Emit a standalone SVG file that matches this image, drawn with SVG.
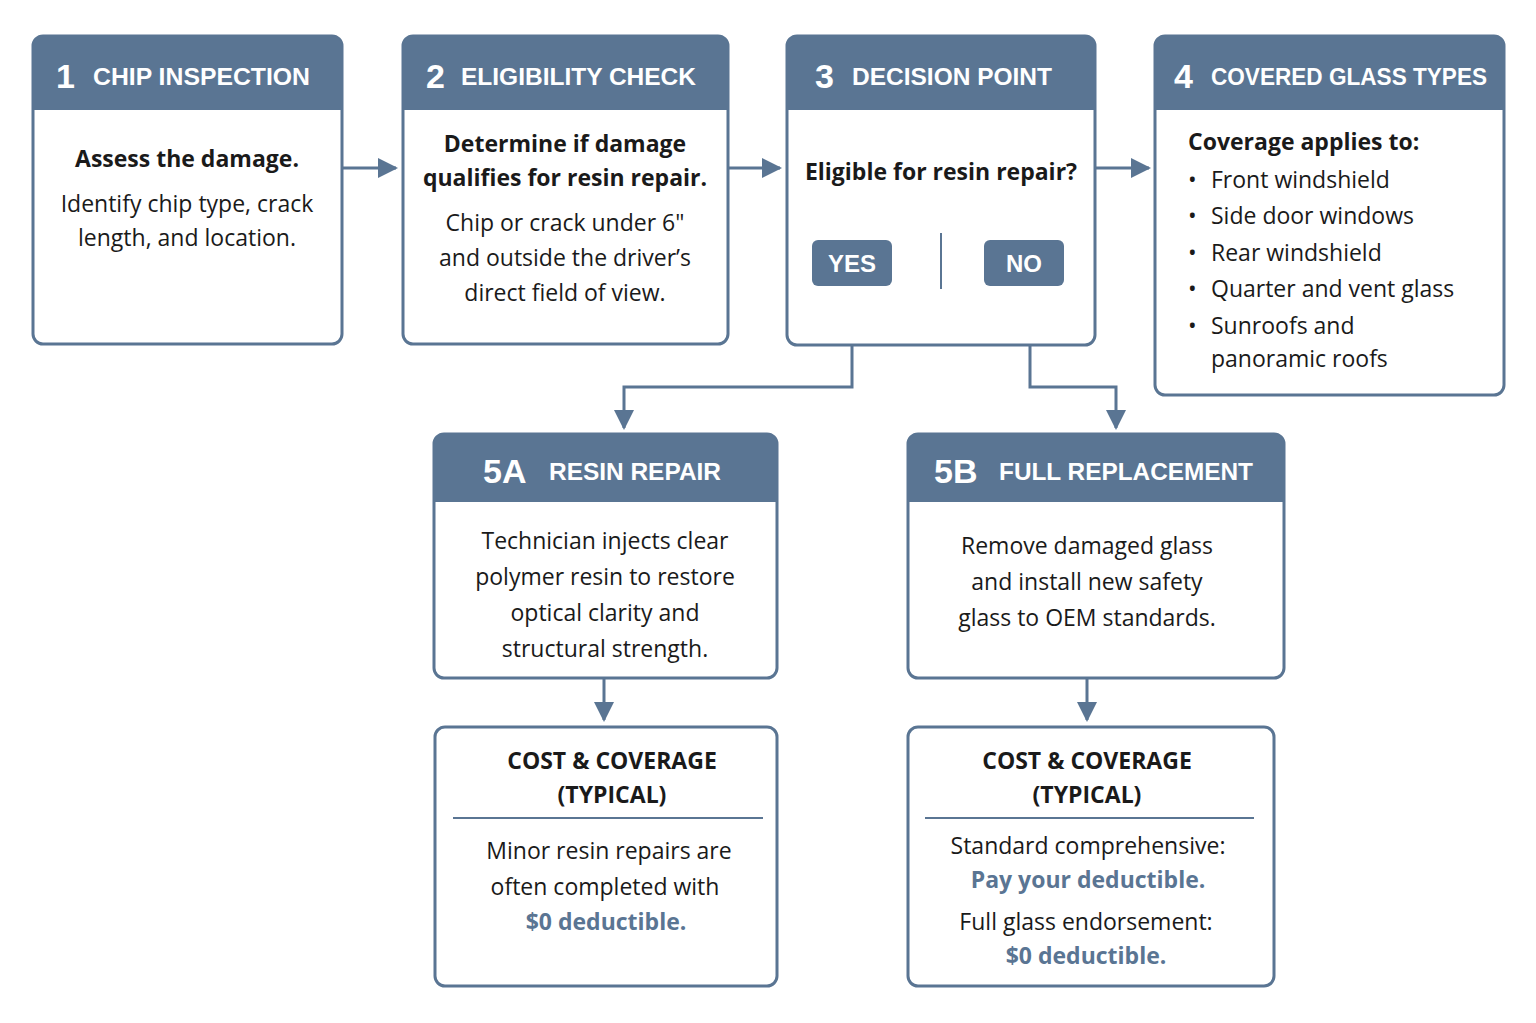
<svg xmlns="http://www.w3.org/2000/svg" width="1536" height="1023" viewBox="0 0 1536 1023">
<style>
.box{fill:#fff;stroke:#5a7593;stroke-width:3}
.hd{fill:#5a7593}
.ht{font-family:"Liberation Sans",Arial,sans-serif;font-weight:bold;fill:#fff;font-size:24px}
.num{font-family:"Liberation Sans",Arial,sans-serif;font-weight:bold;fill:#fff;font-size:34px}
.t{font-family:"Open Sans","Liberation Sans",sans-serif;font-size:23px;fill:#1a1a1a;text-anchor:middle}
.l{font-family:"Open Sans","Liberation Sans",sans-serif;font-size:23px;fill:#1a1a1a}
.b{font-weight:bold}
.bl{font-weight:bold;fill:#5a7593}
.ln{fill:none;stroke:#5a7593;stroke-width:3}
</style>
<defs>
<marker id="ah" viewBox="0 0 10 10" refX="9" refY="5" markerWidth="20" markerHeight="20" markerUnits="userSpaceOnUse" orient="auto"><path d="M0,0L10,5L0,10z" fill="#5a7593"/></marker>
</defs>
<rect width="1536" height="1023" fill="#fff"/>
<g id="connectors">
<path class="ln" d="M342,168H396" marker-end="url(#ah)"/>
<path class="ln" d="M728,168H780" marker-end="url(#ah)"/>
<path class="ln" d="M1095,168H1149" marker-end="url(#ah)"/>
<path class="ln" d="M852,285V387H624V428" marker-end="url(#ah)"/>
<path class="ln" d="M1030,285V387H1116V428" marker-end="url(#ah)"/>
<path class="ln" d="M604,678V720" marker-end="url(#ah)"/>
<path class="ln" d="M1087,678V720" marker-end="url(#ah)"/>
</g>
<g id="n1">
<rect class="box" x="33" y="36" width="309" height="308" rx="10"/>
<path class="hd" d="M33,46a10,10 0 0 1 10,-10H332a10,10 0 0 1 10,10V110H33z"/>
<text class="num" x="56" y="88">1</text>
<text class="ht" x="93" y="85" textLength="217" lengthAdjust="spacingAndGlyphs">CHIP INSPECTION</text>
<text class="t b" x="187" y="167">Assess the damage.</text>
<text class="t" x="187" y="212">Identify chip type, crack</text>
<text class="t" x="187" y="246">length, and location.</text>
</g>
<g id="n2">
<rect class="box" x="403" y="36" width="325" height="308" rx="10"/>
<path class="hd" d="M403,46a10,10 0 0 1 10,-10H718a10,10 0 0 1 10,10V110H403z"/>
<text class="num" x="426" y="88">2</text>
<text class="ht" x="461" y="85" textLength="235" lengthAdjust="spacingAndGlyphs">ELIGIBILITY CHECK</text>
<text class="t b" x="565" y="152">Determine if damage</text>
<text class="t b" x="565" y="186">qualifies for resin repair.</text>
<text class="t" x="565" y="231">Chip or crack under 6"</text>
<text class="t" x="565" y="266">and outside the driver’s</text>
<text class="t" x="565" y="301">direct field of view.</text>
</g>
<g id="n3">
<rect class="box" x="787" y="36" width="308" height="309" rx="10"/>
<path class="hd" d="M787,46a10,10 0 0 1 10,-10H1085a10,10 0 0 1 10,10V110H787z"/>
<text class="num" x="815" y="88">3</text>
<text class="ht" x="852" y="85" textLength="200" lengthAdjust="spacingAndGlyphs">DECISION POINT</text>
<text class="t b" x="941" y="180">Eligible for resin repair?</text>
<line x1="941" y1="233" x2="941" y2="289" stroke="#5a7593" stroke-width="2"/>
<rect class="hd" x="812" y="240" width="80" height="46" rx="6"/>
<text class="ht" x="852" y="272" text-anchor="middle" font-size="23">YES</text>
<rect class="hd" x="984" y="240" width="80" height="46" rx="6"/>
<text class="ht" x="1024" y="272" text-anchor="middle" font-size="23">NO</text>
</g>
<g id="n4">
<rect class="box" x="1155" y="36" width="349" height="359" rx="10"/>
<path class="hd" d="M1155,46a10,10 0 0 1 10,-10H1494a10,10 0 0 1 10,10V110H1155z"/>
<text class="num" x="1174" y="88">4</text>
<text class="ht" x="1211" y="85" textLength="276" lengthAdjust="spacingAndGlyphs">COVERED GLASS TYPES</text>
<text class="l b" x="1188" y="150">Coverage applies to:</text>
<text class="l" x="1188" y="188">•</text><text class="l" x="1211" y="188">Front windshield</text>
<text class="l" x="1188" y="224">•</text><text class="l" x="1211" y="224">Side door windows</text>
<text class="l" x="1188" y="261">•</text><text class="l" x="1211" y="261">Rear windshield</text>
<text class="l" x="1188" y="297">•</text><text class="l" x="1211" y="297">Quarter and vent glass</text>
<text class="l" x="1188" y="334">•</text><text class="l" x="1211" y="334">Sunroofs and</text>
<text class="l" x="1211" y="367">panoramic roofs</text>
</g>
<g id="n5a">
<rect class="box" x="434" y="434" width="343" height="244" rx="10"/>
<path class="hd" d="M434,444a10,10 0 0 1 10,-10H767a10,10 0 0 1 10,10V502H434z"/>
<text class="num" x="483" y="483">5A</text>
<text class="ht" x="549" y="480" textLength="172" lengthAdjust="spacingAndGlyphs">RESIN REPAIR</text>
<text class="t" x="605" y="549">Technician injects clear</text>
<text class="t" x="605" y="585">polymer resin to restore</text>
<text class="t" x="605" y="621">optical clarity and</text>
<text class="t" x="605" y="657">structural strength.</text>
</g>
<g id="n5b">
<rect class="box" x="908" y="434" width="376" height="244" rx="10"/>
<path class="hd" d="M908,444a10,10 0 0 1 10,-10H1274a10,10 0 0 1 10,10V502H908z"/>
<text class="num" x="934" y="483">5B</text>
<text class="ht" x="999" y="480" textLength="254" lengthAdjust="spacingAndGlyphs">FULL REPLACEMENT</text>
<text class="t" x="1087" y="554">Remove damaged glass</text>
<text class="t" x="1087" y="590">and install new safety</text>
<text class="t" x="1087" y="626">glass to OEM standards.</text>
</g>
<g id="c5a">
<rect class="box" x="435" y="727" width="342" height="259" rx="10"/>
<text class="t b" x="612" y="769">COST &amp; COVERAGE</text>
<text class="t b" x="612" y="803">(TYPICAL)</text>
<line x1="453" y1="818" x2="763" y2="818" stroke="#5a7593" stroke-width="2"/>
<text class="t" x="609" y="859">Minor resin repairs are</text>
<text class="t" x="605" y="895">often completed with</text>
<text class="t bl" x="606" y="930">$0 deductible.</text>
</g>
<g id="c5b">
<rect class="box" x="908" y="727" width="366" height="259" rx="10"/>
<text class="t b" x="1087" y="769">COST &amp; COVERAGE</text>
<text class="t b" x="1087" y="803">(TYPICAL)</text>
<line x1="925" y1="818" x2="1254" y2="818" stroke="#5a7593" stroke-width="2"/>
<text class="t" x="1088" y="854">Standard comprehensive:</text>
<text class="t bl" x="1088" y="888">Pay your deductible.</text>
<text class="t" x="1086" y="930">Full glass endorsement:</text>
<text class="t bl" x="1086" y="964">$0 deductible.</text>
</g>
</svg>
